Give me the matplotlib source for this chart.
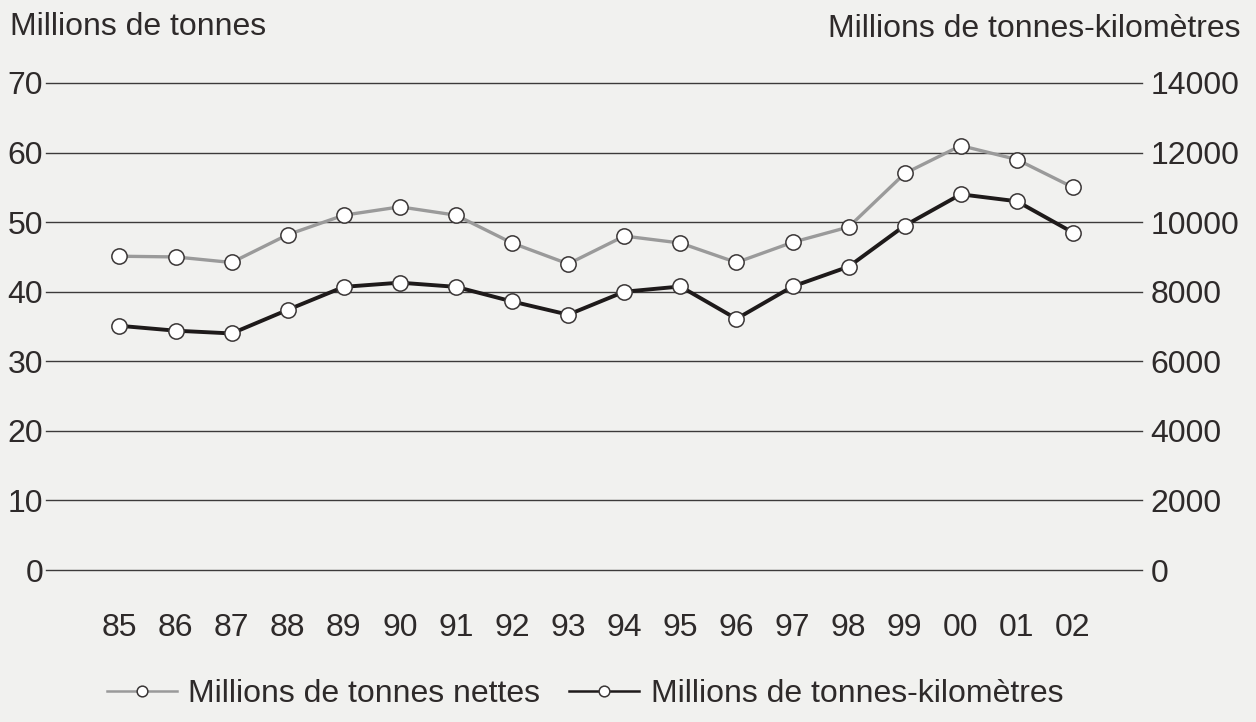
import matplotlib.pyplot as plt
import numpy as np

plt.rcParams['font.family'] = ['Liberation Sans', 'DejaVu Sans']

years = ['85', '86', '87', '88', '89', '90', '91', '92', '93', '94',
         '95', '96', '97', '98', '99', '00', '01', '02']
tonnes_nettes = [45.1, 45.0, 44.2, 48.2, 51.0, 52.2, 51.0, 47.0, 44.0, 48.0,
                 47.0, 44.2, 47.1, 49.3, 57.0, 61.0, 59.0, 55.0]
tonnes_km = [7020, 6880, 6800, 7480, 8140, 8260, 8140, 7720, 7340, 8000,
             8150, 7220, 8150, 8720, 9900, 10800, 10600, 9700]

bg = '#f1f1ef'
grid_col = '#3c3a3a'
gray_col = '#9a9a9a'
black_col = '#1e1a1a'
text_col = '#2e2a2a'
fs = 23

fig = plt.figure(figsize=(12.56, 7.22), dpi=100, facecolor=bg)
ax = fig.add_axes([46 / 1256, 1 - 570 / 722, (1142 - 46) / 1256, (570 - 83) / 722])
ax.set_facecolor(bg)
ax2 = ax.twinx()

x = np.arange(len(years))
ax.set_xlim(-1.31, 18.23)
ax.set_ylim(0, 70)
ax2.set_ylim(0, 14000)

for v in range(0, 71, 10):
    ax.axhline(v, color=grid_col, lw=1.0, zorder=1, clip_on=False)

ax.plot(x, tonnes_nettes, color=gray_col, lw=2.4, marker='o', ms=11,
        mfc='white', mec='#3a3636', mew=1.1, zorder=3,
        label='Millions de tonnes nettes')
ax2.plot(x, tonnes_km, color=black_col, lw=2.8, marker='o', ms=11,
         mfc='white', mec='#3a3636', mew=1.1, zorder=3,
         label='Millions de tonnes-kilomètres')

for a in (ax, ax2):
    for s in a.spines.values():
        s.set_visible(False)

ax.set_yticks(range(0, 71, 10))
ax.tick_params(axis='y', length=0, pad=2, labelsize=fs, labelcolor=text_col)
ax2.set_yticks(range(0, 14001, 2000))
ax2.tick_params(axis='y', length=0, pad=6, labelsize=fs, labelcolor=text_col)

ax.set_xticks(x)
ax.set_xticklabels(years)
ax.tick_params(axis='x', length=0, pad=31, labelsize=fs, labelcolor=text_col)

fig.text(10 / 1256, 1 - 27 / 722, 'Millions de tonnes', fontsize=fs,
         color=text_col, ha='left', va='center')
fig.text(1240 / 1256, 1 - 29 / 722, 'Millions de tonnes-kilomètres', fontsize=fs,
         color=text_col, ha='right', va='center')

h1, l1 = ax.get_legend_handles_labels()
h2, l2 = ax2.get_legend_handles_labels()
leg = fig.legend(h1 + h2, l1 + l2, loc='center', bbox_to_anchor=(585 / 1256, 1 - 694 / 722),
                 ncol=2, frameon=False, fontsize=fs, handlelength=2.2,
                 markerscale=0.7, handletextpad=0.35, columnspacing=0.9,
                 labelcolor=text_col)
for line in leg.get_lines():
    line.set_linewidth(1.8)

fig.savefig('out.png', dpi=100, facecolor=bg)
